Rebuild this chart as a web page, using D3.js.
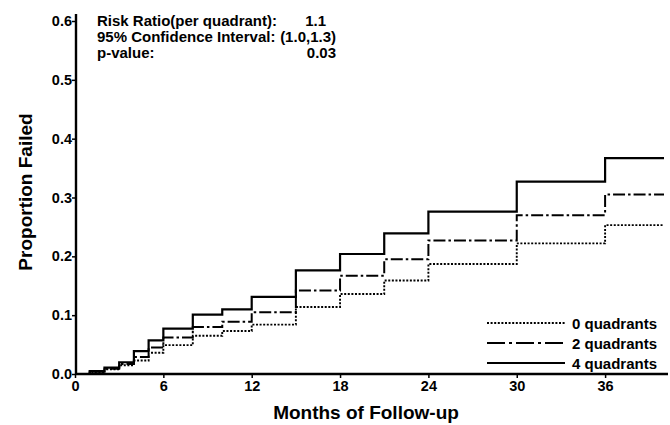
<!DOCTYPE html>
<html>
<head>
<meta charset="utf-8">
<script src="https://cdn.jsdelivr.net/npm/d3@7/dist/d3.min.js"></script>
<style>
  html, body { margin: 0; padding: 0; background: #fff; }
  svg { display: block; }
  text { font-family: "Liberation Sans", Arial, Helvetica, sans-serif; font-weight: bold; fill: #000; }
</style>
</head>
<body>
<svg id="chart" width="670" height="425"></svg>
<script>
// Step times (months) at which the cumulative failure proportion changes
const stepMonths = [1, 2, 3, 4, 5, 6, 8, 10, 12, 15, 18, 21, 24, 30, 36];

// Cumulative proportion failed after each step, by number of quadrants
const failed0 = [0.003, 0.008, 0.015, 0.023, 0.036, 0.049, 0.065, 0.073, 0.084, 0.114, 0.136, 0.159, 0.187, 0.222, 0.253];
const failed2 = [0.004, 0.009, 0.017, 0.029, 0.045, 0.062, 0.080, 0.089, 0.105, 0.142, 0.167, 0.195, 0.227, 0.270, 0.305];
const failed4 = [0.005, 0.011, 0.020, 0.039, 0.057, 0.077, 0.101, 0.110, 0.131, 0.176, 0.204, 0.239, 0.276, 0.327, 0.367];

const seriesNames = ["0 quadrants", "2 quadrants", "4 quadrants"];
const followUpEnd = 40;

const xTicks = [0, 6, 12, 18, 24, 30, 36];
const yTicks = [0, 0.1, 0.2, 0.3, 0.4, 0.5, 0.6];

const statLabels = ["Risk Ratio(per quadrant):", "95% Confidence Interval:", "p-value:"];
const statValues = ["1.1", "(1.0,1.3)", "0.03"];

const svg = d3.select("#chart");

const x = d3.scaleLinear().domain([0, followUpEnd]).range([75, 664]);
const y = d3.scaleLinear().domain([0, 0.6]).range([374, 21]);

// Axes
const xAxis = d3.axisBottom(x).tickValues(xTicks).tickFormat(d3.format("d")).tickSize(4).tickSizeOuter(0);
const yAxis = d3.axisLeft(y).tickValues(yTicks).tickFormat(d3.format(".1f")).tickSize(4).tickSizeOuter(0);

const gx = svg.append("g").attr("transform", "translate(0,374)").call(xAxis);
gx.select(".domain").remove();
gx.selectAll(".tick line").attr("stroke", "#000").attr("stroke-width", 1.5);
gx.selectAll(".tick text").attr("font-size", 14.5).attr("dy", "0.95em").attr("y", 3)
  .style("font-family", "Liberation Sans, Arial, sans-serif").style("font-weight", "bold");

const gy = svg.append("g").attr("transform", "translate(76,0)").call(yAxis);
gy.select(".domain").remove();
gy.selectAll(".tick line").attr("stroke", "#000").attr("stroke-width", 1.5);
gy.selectAll(".tick text").attr("font-size", 14.5).attr("x", -4)
  .style("font-family", "Liberation Sans, Arial, sans-serif").style("font-weight", "bold");

// Axis lines
svg.append("line").attr("x1", 76).attr("x2", 76).attr("y1", 14).attr("y2", 375)
  .attr("stroke", "#000").attr("stroke-width", 2.4);
svg.append("line").attr("x1", 75).attr("x2", 668).attr("y1", 374).attr("y2", 374)
  .attr("stroke", "#000").attr("stroke-width", 2.4);

// Axis titles
svg.append("text").attr("x", 366).attr("y", 419).attr("text-anchor", "middle")
  .attr("font-size", 19).text("Months of Follow-up");
svg.append("text").attr("transform", "translate(32,192) rotate(-90)").attr("text-anchor", "middle")
  .attr("font-size", 19).text("Proportion Failed");

// Step curves
const styles = [
  { dash: "2,1.6", width: 1.9 },
  { dash: "12,3,2.5,3", width: 2 },
  { dash: null, width: 2.2 }
];
const legendDash = ["2,1.6", "18,4,3,4", null];

const line = d3.line().x(d => x(d[0])).y(d => y(d[1])).curve(d3.curveStepAfter);

[failed0, failed2, failed4].forEach((vals, i) => {
  const pts = [[0, 0]].concat(stepMonths.map((m, j) => [m, vals[j]]));
  pts.push([followUpEnd, vals[vals.length - 1]]);
  svg.append("path").datum(pts).attr("d", line)
    .attr("fill", "none").attr("stroke", "#000")
    .attr("stroke-width", styles[i].width)
    .attr("stroke-dasharray", styles[i].dash);
});

// Legend
const legend = svg.append("g");
seriesNames.forEach((name, i) => {
  const yy = 323 + i * 20;
  legend.append("line").attr("x1", 487).attr("x2", 565).attr("y1", yy).attr("y2", yy)
    .attr("stroke", "#000").attr("stroke-width", styles[i].width)
    .attr("stroke-dasharray", legendDash[i]);
  legend.append("text").attr("x", 572).attr("y", yy + 5.5).attr("font-size", 15).text(name);
});

// Model statistics
const stats = svg.append("g");
statLabels.forEach((lab, i) => {
  const yy = 26 + i * 16;
  stats.append("text").attr("x", 97).attr("y", yy).attr("font-size", 15).text(lab);
  stats.append("text").attr("x", i === 0 ? 326 : 336).attr("y", yy).attr("text-anchor", "end")
    .attr("font-size", 15).text(statValues[i]);
});
</script>
</body>
</html>
